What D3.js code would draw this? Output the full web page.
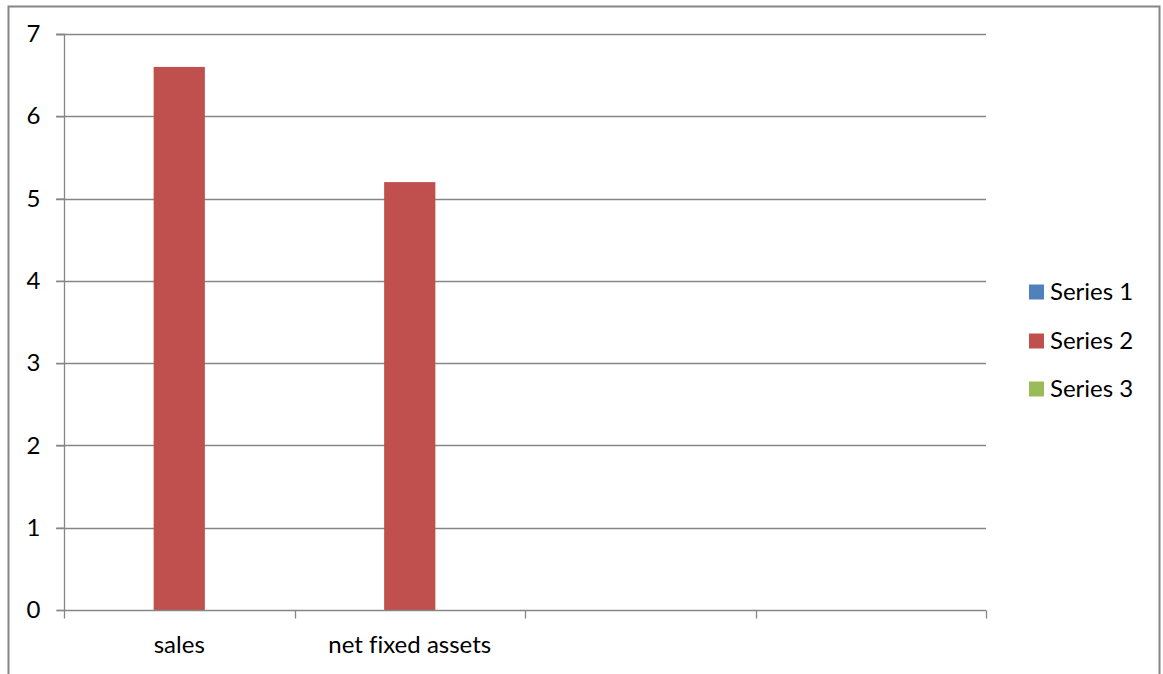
<!DOCTYPE html>
<html><head><meta charset="utf-8">
<script src="https://cdn.jsdelivr.net/npm/d3@7"></script>
<style>body{margin:0;background:#fff;} svg{display:block;} text{font-variant-ligatures:none;font-feature-settings:"liga" 0;}</style>
</head><body>
<svg id="c" width="1163" height="674"></svg>
<script>
const categories = ["sales", "net fixed assets", "", ""];
const seriesNames = ["Series 1", "Series 2", "Series 3"];
const series1 = [0, 0, 0, 0];
const series2 = [6.6, 5.2, 0, 0];
const series3 = [0, 0, 0, 0];
const yTicks = [0, 1, 2, 3, 4, 5, 6, 7];
const colors = ["#4f81bd", "#c0504d", "#9bbb59"];

const svg = d3.select("#c");
const font = "Lato, 'Open Sans', sans-serif";
const fs = 24;
const L = 64, R = 986, T = 34, B = 610;

// outer border
svg.append("path").attr("d", "M8.5,700 V6.5 H1159.5 V700")
  .attr("fill", "none").attr("stroke", "#868686").attr("stroke-width", 2);

const x = d3.scaleBand().domain(d3.range(categories.length)).range([L, R]);
const y = d3.scaleLinear().domain([0, 7]).range([B, T]);
const gapRatio = 1.5;
const pad = x.bandwidth() * gapRatio / (2 * (seriesNames.length + gapRatio));
const xs = d3.scaleBand().domain(d3.range(seriesNames.length)).range([pad, x.bandwidth() - pad]);

// gridlines
svg.append("g").selectAll("line").data(yTicks.filter(d => d > 0)).join("line")
  .attr("x1", L - 8).attr("x2", R).attr("y1", d => Math.round(y(d)) + 0.5).attr("y2", d => Math.round(y(d)) + 0.5)
  .attr("stroke", "#868686").attr("stroke-width", 1.3);

// bars
const data = [series1, series2, series3];
data.forEach((vals, si) => {
  svg.append("g").selectAll("rect").data(vals).join("rect")
    .attr("x", (d, i) => x(i) + xs(si))
    .attr("width", xs.bandwidth())
    .attr("y", d => y(d))
    .attr("height", d => B - y(d))
    .attr("fill", colors[si]);
});

// y axis
const yAxis = svg.append("g").attr("transform", `translate(${L + 0.5},0)`)
  .call(d3.axisLeft(y).tickValues(yTicks).tickSize(8).tickFormat(d3.format("d")));
yAxis.select(".domain").attr("stroke", "#868686").attr("stroke-width", 1.3).attr("d", `M-8,${T + 0.5}H0V${B + 0.5}H-8`);
yAxis.selectAll(".tick line").attr("stroke", "#868686").attr("stroke-width", 1.3);
yAxis.selectAll(".tick text").attr("font-family", font).attr("font-size", fs).attr("fill", "#000").attr("x", -31).attr("text-anchor", "middle");

// x axis
const xAxis = svg.append("g").attr("transform", `translate(0,${B + 0.5})`);
xAxis.append("line").attr("x1", L).attr("x2", R).attr("stroke", "#868686").attr("stroke-width", 1.3);
const edges = d3.range(categories.length + 1).map(i => i < categories.length ? x(i) : R);
xAxis.selectAll(".tk").data(edges).join("line").attr("class", "tk")
  .attr("x1", d => Math.round(d) + 0.5).attr("x2", d => Math.round(d) + 0.5).attr("y1", 0).attr("y2", 8)
  .attr("stroke", "#868686").attr("stroke-width", 1.3);
xAxis.selectAll("text").data(categories).join("text")
  .attr("x", (d, i) => x(i) + x.bandwidth() / 2).attr("y", 42.5)
  .attr("text-anchor", "middle").attr("font-family", font).attr("font-size", fs).attr("fill", "#000")
  .text(d => d);

// legend
const leg = svg.append("g");
const legY = [292, 341, 389];
seriesNames.forEach((s, i) => {
  leg.append("rect").attr("x", 1029).attr("y", legY[i] - 7.5).attr("width", 15).attr("height", 15).attr("fill", colors[i]);
  leg.append("text").attr("x", 1050).attr("y", legY[i] + 8).attr("font-family", font).attr("font-size", fs).attr("fill", "#000").text(s);
});
</script>
</body></html>
